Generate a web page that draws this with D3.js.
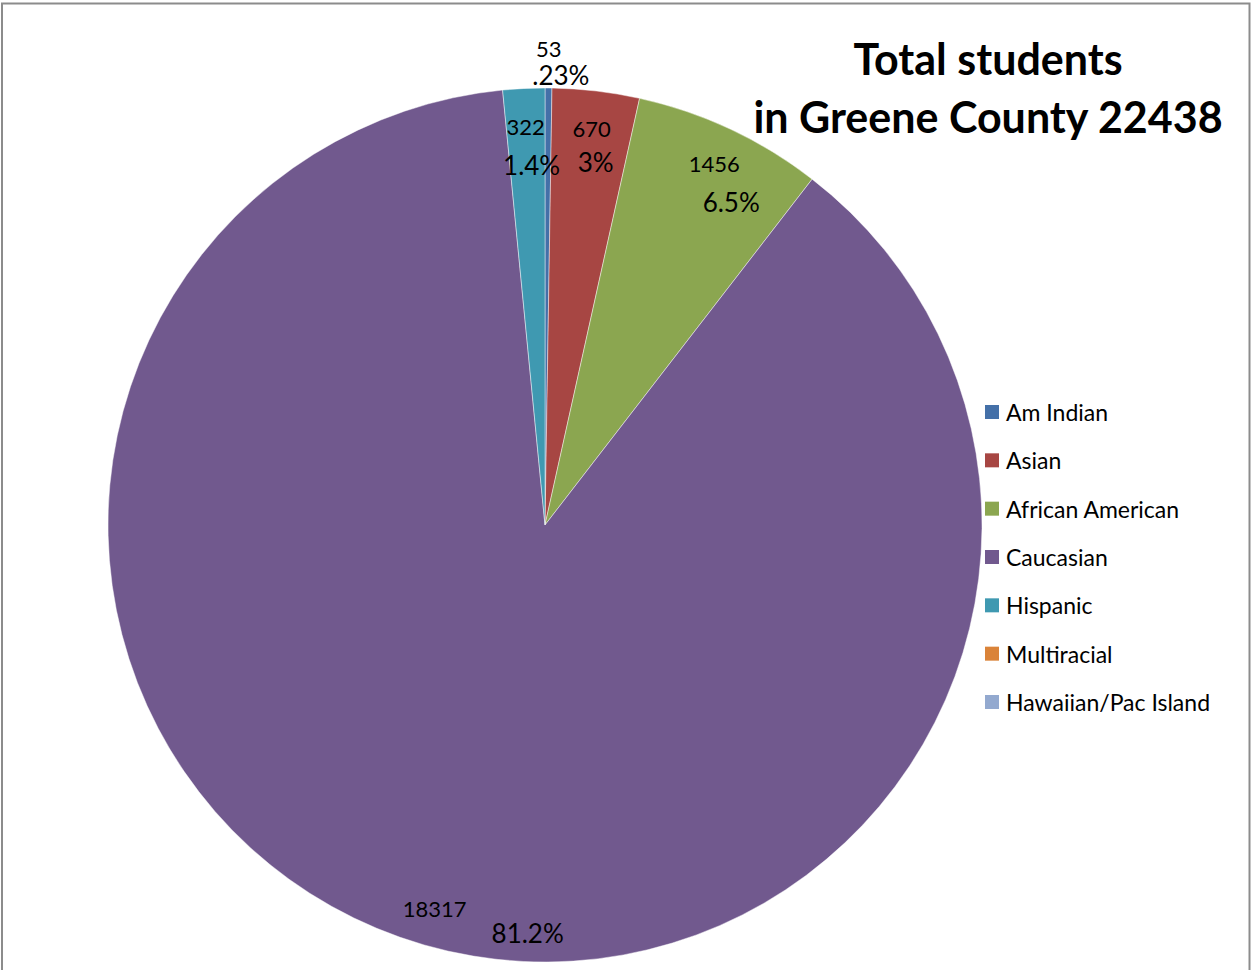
<!DOCTYPE html>
<html>
<head>
<meta charset="utf-8">
<script src="https://cdn.jsdelivr.net/npm/d3@7"></script>
<style>
  body { margin: 0; background: #fff; }
  svg { display: block; font-family: Lato, "Open Sans", sans-serif; }
</style>
</head>
<body>
<div id="chart"></div>
<script>
// groups as listed in the legend
const groups = ["Am Indian", "Asian", "African American", "Caucasian", "Hispanic", "Multiracial", "Hawaiian/Pac Island"];
const students = [53, 670, 1456, 18317, 322, 0, 0];
const pctLabels = [".23%", "3%", "6.5%", "81.2%", "1.4%", "", ""];
const colors = ["#4470A8", "#A74643", "#8BA650", "#71598E", "#3F99B1", "#DA8339", "#93A9CF"];
const titleLines = ["Total students", "in Greene County 22438"];

const w = 1252;
const h = 970;
const cx = 545, cy = 525, r = 437;

const svg = d3.select("#chart")
    .append("svg")
    .attr("width", w)
    .attr("height", h);

// outer frame (bottom edge falls off the picture)
svg.append("rect")
    .attr("x", 2)
    .attr("y", 3.5)
    .attr("width", 1247.5)
    .attr("height", 1000)
    .attr("fill", "none")
    .attr("stroke", "#8c8c8c")
    .attr("stroke-width", 2);

const pie = d3.pie().sort(null).value(d => d.v);
const data = groups.map((g, i) => ({ name: g, v: students[i], pct: pctLabels[i], color: colors[i] }));
const arcs = pie(data);

const arc = d3.arc().innerRadius(0).outerRadius(r);
const g = svg.append("g").attr("transform", `translate(${cx},${cy})`);

g.selectAll("path")
    .data(arcs.filter(d => d.data.v > 0))
    .enter()
    .append("path")
    .attr("d", arc)
    .attr("fill", d => d.data.color)
    .attr("stroke", "rgba(255,255,255,0.45)")
    .attr("stroke-width", 1);

// value labels sit inside the slice, tiny slices go outside
const inLabel = d3.arc().innerRadius(399).outerRadius(399);
const outLabel = d3.arc().innerRadius(477).outerRadius(477);
function labelPos(d) {
    return (d.endAngle - d.startAngle) < 0.05 ? outLabel.centroid(d) : inLabel.centroid(d);
}
// manual nudge of the percent line relative to the count line
const pctNudge = { "Am Indian": [12, 27], "Asian": [4, 33], "African American": [17, 38], "Caucasian": [93, 25], "Hispanic": [6, 39] };

const shown = arcs.filter(d => d.data.v > 0);
g.selectAll(".val")
    .data(shown)
    .enter()
    .append("text")
    .attr("class", "val")
    .attr("x", d => labelPos(d)[0])
    .attr("y", d => labelPos(d)[1])
    .attr("text-anchor", "middle")
    .attr("dominant-baseline", "central")
    .style("font-size", "22px")
    .attr("fill", "#000")
    .text(d => d.data.v);

g.selectAll(".pct")
    .data(shown)
    .enter()
    .append("text")
    .attr("class", "pct")
    .attr("x", d => labelPos(d)[0] + pctNudge[d.data.name][0])
    .attr("y", d => labelPos(d)[1] + pctNudge[d.data.name][1])
    .attr("text-anchor", "middle")
    .attr("dominant-baseline", "central")
    .style("font-size", "26px")
    .attr("fill", "#000")
    .text(d => d.data.pct);

// title
const title = svg.append("text")
    .attr("text-anchor", "middle")
    .style("font-size", "43px")
    .style("font-weight", "bold");
titleLines.forEach((t, i) => {
    title.append("tspan")
        .attr("x", 988)
        .attr("y", 75 + i * 58)
        .text(t);
});

// legend
const legendY = d3.scalePoint().domain(groups).range([412, 702]);
const legend = svg.append("g");
legend.selectAll("rect")
    .data(data)
    .enter()
    .append("rect")
    .attr("x", 985)
    .attr("y", d => legendY(d.name) - 7)
    .attr("width", 14)
    .attr("height", 14)
    .attr("fill", d => d.color);
legend.selectAll("text")
    .data(data)
    .enter()
    .append("text")
    .attr("x", 1006)
    .attr("y", d => legendY(d.name))
    .attr("dominant-baseline", "central")
    .style("font-size", "23px")
    .attr("fill", "#000")
    .text(d => d.name);
</script>
</body>
</html>
